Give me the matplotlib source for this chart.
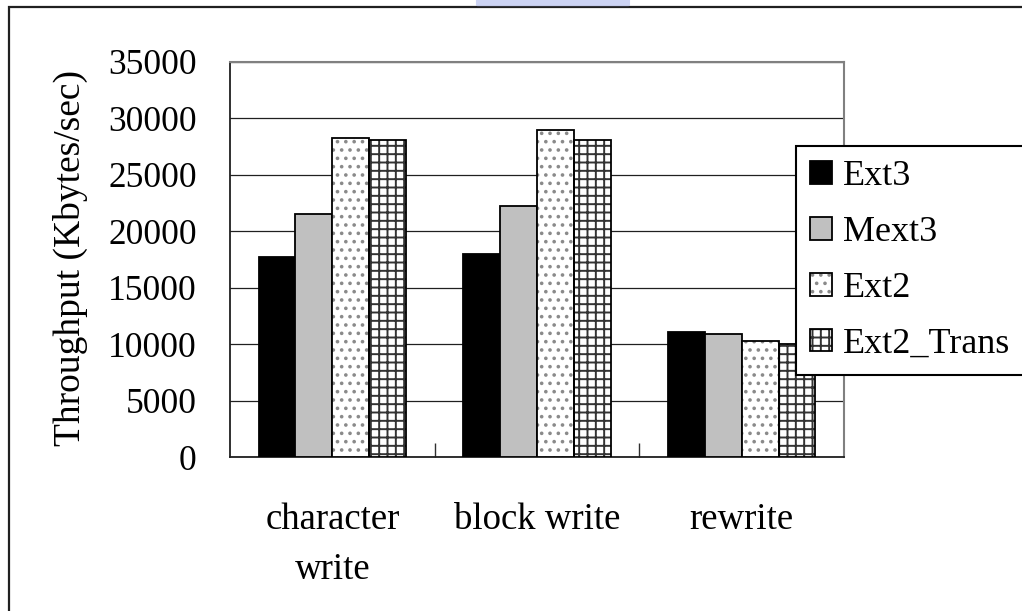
import matplotlib
matplotlib.use("Agg")
import matplotlib.pyplot as plt
from matplotlib.patches import Patch, Rectangle, FancyBboxPatch
from matplotlib.legend_handler import HandlerTuple
import numpy as np

# throughput per benchmark, Kbytes/sec
categories = ["character\nwrite", "block write", "rewrite"]
series = ["Ext3", "Mext3", "Ext2", "Ext2_Trans"]
ext3 = [17700, 18000, 11100]
mext3 = [21500, 22200, 10900]
ext2 = [28300, 29000, 10300]
ext2_trans = [28100, 28100, 10000]
yticks = [0, 5000, 10000, 15000, 20000, 25000, 30000, 35000]

plt.rcParams["font.family"] = ["Liberation Serif", "DejaVu Serif"]
plt.rcParams["hatch.linewidth"] = 1.4

# (face colour, hatch, hatch colour)
styles = [
    ("black", None, None),
    ("#c0c0c0", None, None),
    ("white", "..", "#8a8a8a"),
    ("white", "++", "#333333"),
]

W, H = 1022, 611
fig = plt.figure(figsize=(W / 100, H / 100), dpi=100)
ax = fig.add_axes([230 / W, 1 - 457 / H, 614 / W, 395 / H])

x = np.arange(len(categories))
width = 0.18
handles = []
for i, (vals, (fc, hatch, hc)) in enumerate(zip([ext3, mext3, ext2, ext2_trans], styles)):
    pos = x + (i - 1.5) * width
    if hatch:
        ax.bar(pos, vals, width, color=fc, hatch=hatch, edgecolor=hc, linewidth=0, zorder=3)
        ax.bar(pos, vals, width, fill=False, edgecolor="black", linewidth=1.3, zorder=4)
        handles.append((Patch(facecolor=fc, hatch=hatch, edgecolor=hc, linewidth=0),
                        Patch(fill=False, edgecolor="black", linewidth=1.3)))
    else:
        ax.bar(pos, vals, width, color=fc, edgecolor="black", linewidth=1.3, zorder=3)
        handles.append(Patch(facecolor=fc, edgecolor="black", linewidth=1.3))

ax.set_xlim(-0.5, 2.5)
ax.set_ylim(0, 35000)
ax.set_yticks(yticks)
ax.tick_params(axis="y", length=0, pad=24, labelsize=25.5)
ax.yaxis.grid(True, color="#202020", linewidth=0.9, zorder=0)
ax.set_axisbelow(True)

# separators between groups as inward ticks, names as minor ticks
ax.set_xticks([0.5, 1.5])
ax.set_xticklabels([])
ax.tick_params(axis="x", which="major", direction="in", length=10, width=1.0, color="#303030")
ax.set_xticks(x, minor=True)
ax.set_xticklabels(categories, minor=True, fontsize=26.5, linespacing=1.57, va="top")
ax.tick_params(axis="x", which="minor", length=0, pad=33)

for side in ["left", "bottom"]:
    ax.spines[side].set_color("#202020")
    ax.spines[side].set_linewidth(1.3)
for side in ["top", "right"]:
    ax.spines[side].set_color("#808080")
    ax.spines[side].set_linewidth(1.5)

fig.text(70 / W, 1 - 258 / H, "Throughput (Kbytes/sec)", rotation=90,
         ha="center", va="center", fontsize=27)

leg = fig.legend(handles, series, loc="upper left",
                 bbox_to_anchor=(796 / W, 1 - 146 / H), bbox_transform=fig.transFigure,
                 fontsize=26, frameon=True, fancybox=False, framealpha=1,
                 edgecolor="black", borderpad=0.4, labelspacing=0.63,
                 handlelength=0.6, handleheight=0.6, handletextpad=0.3,
                 borderaxespad=0, handler_map={tuple: HandlerTuple(ndivide=1, pad=0)})
leg.get_frame().set_linewidth(1.5)

# outer frame running off the right and bottom edges
fig.patches.append(Rectangle((9 / W, -0.05), 1.1, 1.05 - 7 / H, transform=fig.transFigure,
                             fill=False, edgecolor="#202020", linewidth=1.6))
# faint blue stamp at the top edge
fig.patches.append(FancyBboxPatch((478 / W, 1 - 5 / H), 150 / W, 12 / H,
                                  boxstyle="round,pad=0.002", transform=fig.transFigure,
                                  facecolor="#aab6ec", edgecolor="none", alpha=0.6))

fig.savefig("out.png", dpi=100)
